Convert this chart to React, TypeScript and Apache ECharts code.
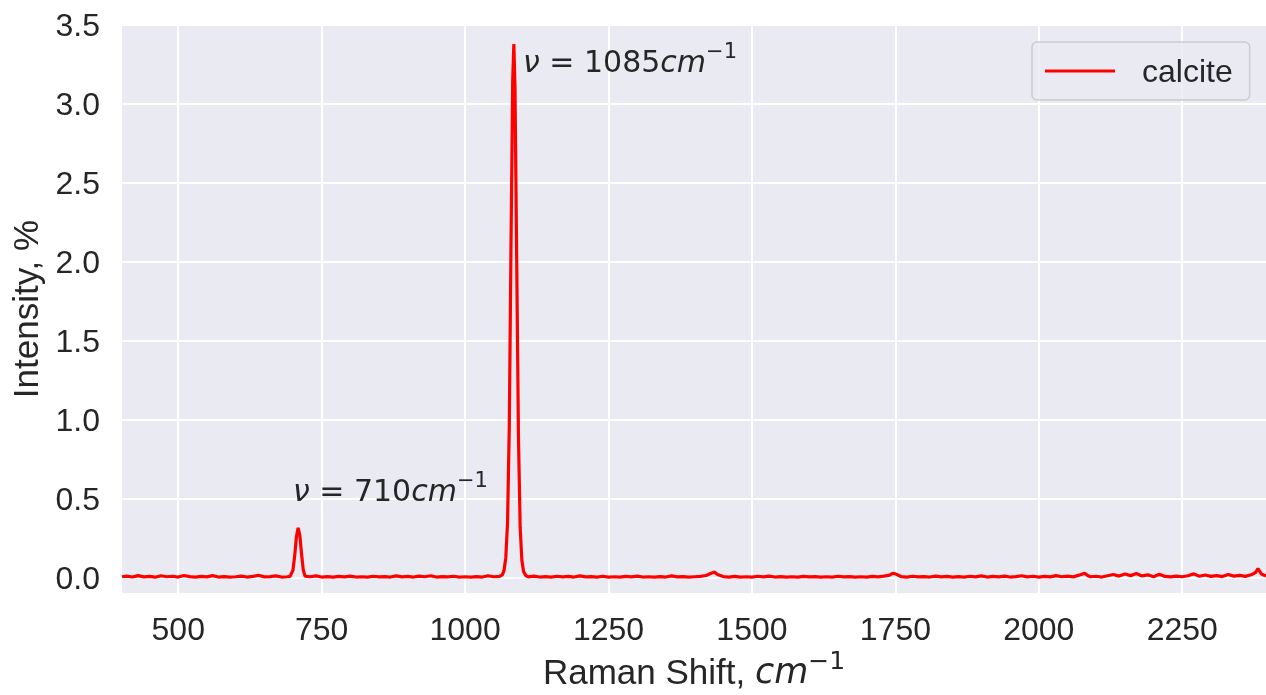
import React, { useEffect, useRef } from "react";
import * as echarts from "echarts";

// Raman spectrum of calcite
const ramanShift = [
  402, 410, 420, 430, 440, 450, 460, 470, 480, 490,
  500, 510, 520, 530, 540, 550, 560, 570, 580, 590,
  600, 610, 620, 630, 640, 650, 660, 670, 680, 690,
  695, 700, 703, 706, 709, 712, 715, 718, 721, 730,
  740, 750, 760, 770, 780, 790, 800, 810, 820, 830,
  840, 850, 860, 870, 880, 890, 900, 910, 920, 930,
  940, 950, 960, 970, 980, 990, 1000, 1010, 1020, 1030,
  1040, 1050, 1060, 1065, 1068, 1071, 1074, 1077, 1080, 1083,
  1085, 1087, 1090, 1093, 1096, 1099, 1102, 1106, 1110, 1120,
  1130, 1140, 1150, 1160, 1170, 1180, 1190, 1200, 1210, 1220,
  1230, 1240, 1250, 1260, 1270, 1280, 1290, 1300, 1310, 1320,
  1330, 1340, 1350, 1360, 1370, 1380, 1390, 1400, 1410, 1420,
  1430, 1435, 1440, 1450, 1460, 1470, 1480, 1490, 1500, 1510,
  1520, 1530, 1540, 1550, 1560, 1570, 1580, 1590, 1600, 1610,
  1620, 1630, 1640, 1650, 1660, 1670, 1680, 1690, 1700, 1710,
  1720, 1730, 1740, 1745, 1750, 1760, 1770, 1780, 1790, 1800,
  1810, 1820, 1830, 1840, 1850, 1860, 1870, 1880, 1890, 1900,
  1910, 1920, 1930, 1940, 1950, 1960, 1970, 1980, 1990, 2000,
  2010, 2020, 2030, 2040, 2050, 2060, 2070, 2080, 2085, 2090,
  2100, 2110, 2120, 2130, 2140, 2150, 2160, 2170, 2180, 2190,
  2200, 2210, 2220, 2230, 2240, 2250, 2260, 2270, 2280, 2290,
  2300, 2310, 2320, 2330, 2340, 2350, 2360, 2370, 2378, 2382,
  2388, 2396,
];

const intensity = [
  0.008, 0.012, 0.006, 0.015, 0.007, 0.010, 0.005, 0.014, 0.008, 0.011,
  0.006, 0.016, 0.009, 0.005, 0.010, 0.007, 0.015, 0.006, 0.009, 0.005,
  0.008, 0.012, 0.006, 0.010, 0.017, 0.007, 0.009, 0.013, 0.006, 0.008,
  0.010, 0.050, 0.140, 0.260, 0.318, 0.270, 0.150, 0.050, 0.012, 0.008,
  0.013, 0.006, 0.009, 0.005, 0.010, 0.007, 0.012, 0.006, 0.008, 0.005,
  0.011, 0.007, 0.009, 0.006, 0.013, 0.007, 0.010, 0.006, 0.012, 0.008,
  0.014, 0.006, 0.009, 0.007, 0.011, 0.006, 0.008, 0.005, 0.009, 0.006,
  0.014, 0.008, 0.010, 0.020, 0.050, 0.130, 0.350, 0.950, 2.100, 3.150,
  3.380, 3.100, 2.000, 0.900, 0.320, 0.110, 0.040, 0.015, 0.007, 0.012,
  0.006, 0.009, 0.005, 0.011, 0.007, 0.010, 0.006, 0.013, 0.007, 0.009,
  0.005, 0.011, 0.006, 0.008, 0.005, 0.010, 0.007, 0.012, 0.006, 0.008,
  0.005, 0.009, 0.006, 0.013, 0.007, 0.009, 0.006, 0.008, 0.010, 0.016,
  0.032, 0.037, 0.022, 0.009, 0.006, 0.010, 0.005, 0.008, 0.006, 0.011,
  0.007, 0.012, 0.006, 0.009, 0.005, 0.008, 0.006, 0.010, 0.007, 0.009,
  0.005, 0.008, 0.006, 0.011, 0.007, 0.009, 0.005, 0.008, 0.006, 0.010,
  0.007, 0.012, 0.018, 0.030, 0.026, 0.009, 0.006, 0.011, 0.007, 0.009,
  0.006, 0.012, 0.007, 0.010, 0.005, 0.009, 0.006, 0.011, 0.007, 0.013,
  0.006, 0.010, 0.007, 0.012, 0.006, 0.009, 0.014, 0.007, 0.011, 0.006,
  0.010, 0.007, 0.015, 0.008, 0.012, 0.007, 0.018, 0.030, 0.016, 0.008,
  0.011, 0.006, 0.014, 0.022, 0.012, 0.025, 0.015, 0.028, 0.013, 0.020,
  0.008, 0.024, 0.010, 0.007, 0.012, 0.008, 0.014, 0.026, 0.011, 0.019,
  0.010, 0.015, 0.009, 0.022, 0.012, 0.017, 0.010, 0.020, 0.035, 0.060,
  0.025, 0.012,
];

const xTicks = [500, 750, 1000, 1250, 1500, 1750, 2000, 2250];
const yTicks = [0, 0.5, 1.0, 1.5, 2.0, 2.5, 3.0, 3.5];

// peak annotations: label text value and label anchor (left edge, vertical middle) in data coords
const peakLabels = ["710", "1085"];
const peakLabelX = [700, 1101];
const peakLabelY = [0.575, 3.285];

const SANS = "'Liberation Sans', Arial, sans-serif";
const MATH = "'DejaVu Sans', sans-serif";
const TEXT = "#262626";

export default function App() {
  const ref = useRef<HTMLDivElement>(null);
  useEffect(() => {
    const chart = echarts.init(ref.current!, null, { renderer: "svg" });
    const data = ramanShift.map((x, i) => [x, intensity[i]]);
    const gridLeft = 122, gridTop = 25, gridW = 1144, gridH = 568;
    chart.setOption({
      animation: false,
      grid: {
        left: gridLeft, top: gridTop, width: gridW, height: gridH,
        show: true, backgroundColor: "#EAEAF2", borderWidth: 0,
      },
      xAxis: {
        type: "value", min: 402, max: 2396,
        axisLine: { show: false }, axisTick: { show: false, customValues: xTicks },
        axisLabel: {
          customValues: xTicks, fontSize: 32, color: TEXT, fontFamily: SANS, margin: 20,
          formatter: (v: number) => String(v),
        },
        splitLine: { show: true, lineStyle: { color: "#ffffff", width: 2 } },
      },
      yAxis: {
        type: "value", min: -0.095, max: 3.5,
        axisLine: { show: false }, axisTick: { show: false, customValues: yTicks },
        axisLabel: {
          customValues: yTicks, fontSize: 32, color: TEXT, fontFamily: SANS, margin: 22,
          formatter: (v: number) => v.toFixed(1),
        },
        splitLine: { show: true, lineStyle: { color: "#ffffff", width: 2 } },
      },
      legend: {
        data: [{ name: "calcite", icon: "rect" }],
        left: 1032, top: 42,
        padding: [13, 17, 13, 13],
        itemWidth: 70, itemHeight: 3,
        backgroundColor: "rgba(234,234,242,0.8)",
        borderColor: "#cccccc", borderWidth: 1.5, borderRadius: 5,
        textStyle: { fontSize: 32, color: TEXT, fontFamily: SANS, padding: [0, 0, 0, 22] },
      },
      series: [{
        name: "calcite", type: "line", data, showSymbol: false, symbol: "none",
        lineStyle: { color: "#ff0000", width: 3.2 }, itemStyle: { color: "#ff0000" },
      }],
    });

    const mathRich = (fs: number) => ({
      r: { fontFamily: SANS, fontSize: fs, fill: TEXT, verticalAlign: "bottom", lineHeight: fs + 6 },
      m: { fontFamily: MATH, fontSize: fs, fill: TEXT, verticalAlign: "bottom", lineHeight: fs + 6 },
      i: { fontFamily: MATH, fontStyle: "italic", fontSize: fs, fill: TEXT, verticalAlign: "bottom", lineHeight: fs + 6 },
      s: { fontFamily: MATH, fontSize: Math.round(fs * 0.7), fill: TEXT, verticalAlign: "top", lineHeight: Math.round(fs * 0.7) },
    });

    const graphics: any[] = peakLabels.map((lab, k) => {
      const p = chart.convertToPixel({ gridIndex: 0 }, [peakLabelX[k], peakLabelY[k]]) as number[];
      return {
        type: "text", x: p[0], y: p[1], z: 10,
        style: {
          text: `{i|ν}{m| = ${lab}}{i|cm}{s|−1}`,
          align: "left", verticalAlign: "middle",
          rich: mathRich(30),
        },
      };
    });
    graphics.push({
      type: "text", x: gridLeft + gridW / 2, y: 668,
      style: {
        text: "{r|Raman Shift, }{i|cm}{s|−1}",
        align: "center", verticalAlign: "middle",
        rich: mathRich(35),
      },
    });
    graphics.push({
      type: "text", x: 25, y: gridTop + gridH / 2, rotation: Math.PI / 2,
      style: {
        text: "Intensity, %", fontFamily: SANS, fontSize: 35, fill: TEXT,
        align: "center", verticalAlign: "middle",
      },
    });
    chart.setOption({ graphic: graphics });
    return () => chart.dispose();
  }, []);
  return <div ref={ref} style={{ position: "fixed", left: 0, top: 0, width: 1266, height: 695 }} />;
}
